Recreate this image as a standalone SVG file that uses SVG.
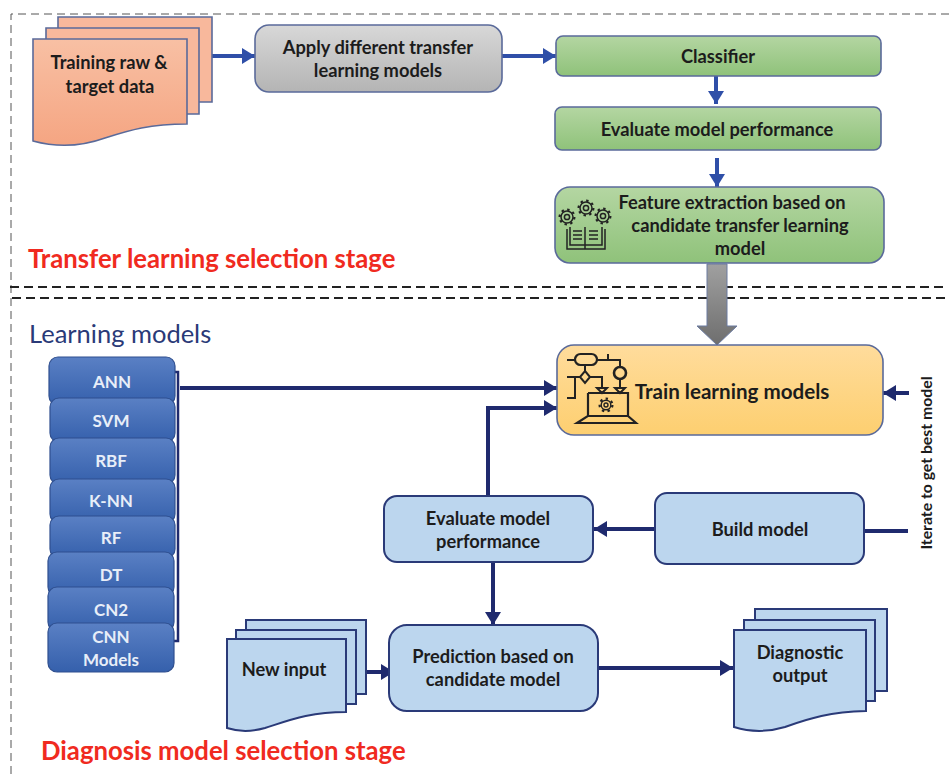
<svg xmlns="http://www.w3.org/2000/svg" width="949" height="776" viewBox="0 0 949 776">
<style>
text{font-family:"Lato","Open Sans","Liberation Sans",sans-serif;font-weight:700;text-anchor:middle}
.k{font-size:18.3px;fill:#1c1c1c;transform:translateY(1px)}
.w{font-size:17px;fill:#e8eef8;transform:translateY(1px)}
.r{font-size:25.7px;fill:#f02a20;text-anchor:start;transform:translateY(1px)}
.box{stroke:#5a6a9a;stroke-width:1.6}
.lb{fill:#bcd6ee;stroke:#2a3a78;stroke-width:2}
.m{fill:url(#blue);stroke:#2f4f8f;stroke-width:1.2}
.c{fill:none;stroke:#1f2a6e;stroke-width:4}
.t{fill:none;stroke:#2f4fa8;stroke-width:4}
.dash{fill:none;stroke:#222;stroke-width:2;stroke-dasharray:9 5}
.thin{fill:none;stroke:#555;stroke-width:1;stroke-dasharray:8 5}
.i{fill:none;stroke:#222;stroke-width:2}
.g{fill:none;stroke:#222;stroke-width:1.5}
.teeth{fill:none;stroke:#222;stroke-width:2.2;stroke-dasharray:2.4 3.4}
</style>
<defs>
<linearGradient id="or" x1="0" y1="0" x2="0" y2="1"><stop offset="0" stop-color="#f8c0a4"/><stop offset="1" stop-color="#f5a582"/></linearGradient>
<linearGradient id="gr" x1="0" y1="0" x2="0" y2="1"><stop offset="0" stop-color="#d8d8d8"/><stop offset="1" stop-color="#b4b4b4"/></linearGradient>
<linearGradient id="gn" x1="0" y1="0" x2="0" y2="1"><stop offset="0" stop-color="#b4d6a2"/><stop offset="1" stop-color="#8fc27a"/></linearGradient>
<linearGradient id="ye" x1="0" y1="0" x2="0" y2="1"><stop offset="0" stop-color="#ffdc9c"/><stop offset="1" stop-color="#fdcf70"/></linearGradient>
<linearGradient id="blue" x1="0" y1="0" x2="0" y2="1"><stop offset="0" stop-color="#5a80c4"/><stop offset="1" stop-color="#3560ac"/></linearGradient>
<linearGradient id="ga" x1="0" y1="0" x2="0" y2="1"><stop offset="0" stop-color="#a0a0a0"/><stop offset="1" stop-color="#6e6e6e"/></linearGradient>
<marker id="at" markerUnits="userSpaceOnUse" markerWidth="14" markerHeight="16" refX="13" refY="8" orient="auto"><path d="M0 0L13 8L0 16Z" fill="#2f4fa8"/></marker>
<marker id="ac" markerUnits="userSpaceOnUse" markerWidth="14" markerHeight="16" refX="13" refY="8" orient="auto"><path d="M0 0L13 8L0 16Z" fill="#1f2a6e"/></marker>
</defs>
<rect width="949" height="776" fill="#fff"/>
<path class="thin" d="M949 14H11V776"/>
<path class="dash" d="M10 287H946M12 298H946"/>
<g id="connectors">
<path class="t" d="M212 56H255" marker-end="url(#at)"/>
<path class="t" d="M502 56H556" marker-end="url(#at)"/>
<path class="t" d="M716 76V104" marker-end="url(#at)"/>
<path class="t" d="M717 158V187" marker-end="url(#at)"/>
<path d="M707 264H727V326H737L717 345L697 326H707Z" fill="url(#ga)" stroke="#6a7aa0" stroke-width="1"/>
<path d="M172 372H178V641H172" fill="none" stroke="#1f2a6e" stroke-width="2.5"/>
<path class="c" d="M180 388H557" marker-end="url(#ac)"/>
<path class="c" d="M488 496V408H557" marker-end="url(#ac)"/>
<path class="c" d="M655 529H594" marker-end="url(#ac)"/>
<path class="c" d="M493 563V625" marker-end="url(#ac)"/>
<path class="c" d="M366 672H394" marker-end="url(#ac)"/>
<path class="c" d="M598 668H733" marker-end="url(#ac)"/>
<path class="c" d="M909 393H883" marker-end="url(#ac)"/>
<path class="c" d="M864 531H908"/>
</g>
<g id="training-data">
<path class="box" fill="#f8b89c" d="M58 17H212V102H58Z"/>
<path class="box" fill="#f8b89c" d="M46 28H199V114H46Z"/>
<path class="box" fill="url(#or)" d="M33 39H187V124C150 124 130 130 105 138C80 147 55 147 33 141Z"/>
<text class="k" x="109" y="68">Training raw &amp;</text>
<text class="k" x="110" y="92">target data</text>
</g>
<g id="apply-models">
<rect class="box" x="255" y="25" width="247" height="67" rx="14" fill="url(#gr)"/>
<text class="k" x="378" y="53">Apply different transfer</text>
<text class="k" x="378" y="76">learning models</text>
</g>
<g id="classifier">
<rect class="box" x="556" y="36" width="325" height="40" rx="7" fill="url(#gn)"/>
<text class="k" x="718" y="62">Classifier</text>
</g>
<g id="evaluate-top">
<rect class="box" x="555" y="107" width="326" height="43" rx="7" fill="url(#gn)"/>
<text class="k" x="717" y="135">Evaluate model performance</text>
</g>
<g id="feature-extraction">
<rect class="box" x="555" y="187" width="329" height="76" rx="15" fill="url(#gn)"/>
<text class="k" x="732" y="208">Feature extraction based on</text>
<text class="k" x="740" y="231">candidate transfer learning</text>
<text class="k" x="740" y="254">model</text>
<circle class="teeth" cx="567" cy="217" r="7.4"/><circle class="teeth" cx="586" cy="208" r="7.4"/><circle class="teeth" cx="603" cy="216" r="7.4"/>
<g class="g">
<circle cx="567" cy="217" r="6"/><circle cx="567" cy="217" r="2.6"/>
<circle cx="586" cy="208" r="6"/><circle cx="586" cy="208" r="2.6"/>
<circle cx="603" cy="216" r="6"/><circle cx="603" cy="216" r="2.6"/>
<path d="M567 229V249H605V229M570 227V245H585V249M602 227V245H585M585 227V245M573 231H582M573 235H582M573 239H582M589 231H598M589 235H598M589 239H598"/>
</g>
</g>
<g id="train-models">
<rect class="box" x="557" y="345" width="326" height="90" rx="17" fill="url(#ye)"/>
<text class="k" x="732" y="398" style="font-size:20.6px">Train learning models</text>
<g class="i">
<rect x="575" y="354" width="22" height="11" rx="5.5" stroke-width="2.2"/>
<path d="M567 360H575M597 360H620V367M608 354V360M567 377H580M575 377V398H567M590 377H602V388M620 379V388M585 365V371"/>
<path d="M585 371L590 377L585 383L580 377Z"/>
<circle cx="620" cy="373" r="6" stroke-width="2.6"/>
<path d="M597 388H607L602 393ZM615 388H625L620 393Z"/>
<path d="M588 393H628V416M588 393V416L577 423H636L628 416H588" stroke-width="2.2"/>
<circle class="teeth" cx="606" cy="405" r="6.4"/>
<circle cx="606" cy="405" r="4.8" stroke-width="1.4"/>
<circle cx="606" cy="405" r="2" stroke-width="1.4"/>
</g>
</g>
<text x="29" y="342" style="font-size:25.5px;font-weight:400;text-anchor:start;fill:#2a3a78;transform:translateY(1px)">Learning models</text>
<g id="m-ann"><rect class="m" x="49" y="357" width="126" height="48" rx="9"/><text class="w" x="112" y="387">ANN</text></g>
<g id="m-svm"><rect class="m" x="50" y="398" width="125" height="44" rx="9"/><text class="w" x="111" y="426">SVM</text></g>
<g id="m-rbf"><rect class="m" x="50" y="438" width="125" height="46" rx="9"/><text class="w" x="111" y="466">RBF</text></g>
<g id="m-knn"><rect class="m" x="50" y="479" width="125" height="44" rx="9"/><text class="w" x="111" y="506">K-NN</text></g>
<g id="m-rf"><rect class="m" x="50" y="516" width="125" height="42" rx="9"/><text class="w" x="111" y="543">RF</text></g>
<g id="m-dt"><rect class="m" x="48" y="552" width="126" height="44" rx="9"/><text class="w" x="111" y="580">DT</text></g>
<g id="m-cn2"><rect class="m" x="48" y="587" width="126" height="44" rx="9"/><text class="w" x="111" y="615">CN2</text></g>
<g id="m-cnn"><rect class="m" x="48" y="623" width="126" height="49" rx="9"/><text class="w" x="111" y="642">CNN</text><text class="w" x="111" y="665">Models</text></g>
<g id="evaluate-bottom">
<rect class="lb" x="384" y="496" width="209" height="66" rx="13"/>
<text class="k" x="488" y="524">Evaluate model</text>
<text class="k" x="488" y="547">performance</text>
</g>
<g id="build-model">
<rect class="lb" x="655" y="493" width="209" height="71" rx="12"/>
<text class="k" x="760" y="535">Build model</text>
</g>
<g id="new-input">
<path class="lb" d="M246 620H366V694H246Z"/>
<path class="lb" d="M236 630H356V704H236Z"/>
<path class="lb" d="M227 639H346V712C310 712 290 720 265 728C250 732 240 732 227 728Z"/>
<text class="k" x="284" y="675">New input</text>
</g>
<g id="prediction">
<rect class="lb" x="389" y="625" width="209" height="86" rx="18"/>
<text class="k" x="493" y="662">Prediction based on</text>
<text class="k" x="493" y="685">candidate model</text>
</g>
<g id="diagnostic-output">
<path class="lb" d="M755 609H887V691H755Z"/>
<path class="lb" d="M744 620H875V701H744Z"/>
<path class="lb" d="M734 630H866V711C830 712 810 718 785 727C765 733 750 732 734 727Z"/>
<text class="k" x="800" y="658">Diagnostic</text>
<text class="k" x="800" y="681">output</text>
</g>
<text class="r" x="28" y="267">Transfer learning selection stage</text>
<text class="r" x="41" y="759">Diagnosis model selection stage</text>
<text transform="translate(932 463) rotate(-90)" style="font-size:15.8px;fill:#1c1c1c">Iterate to get best model</text>
</svg>
